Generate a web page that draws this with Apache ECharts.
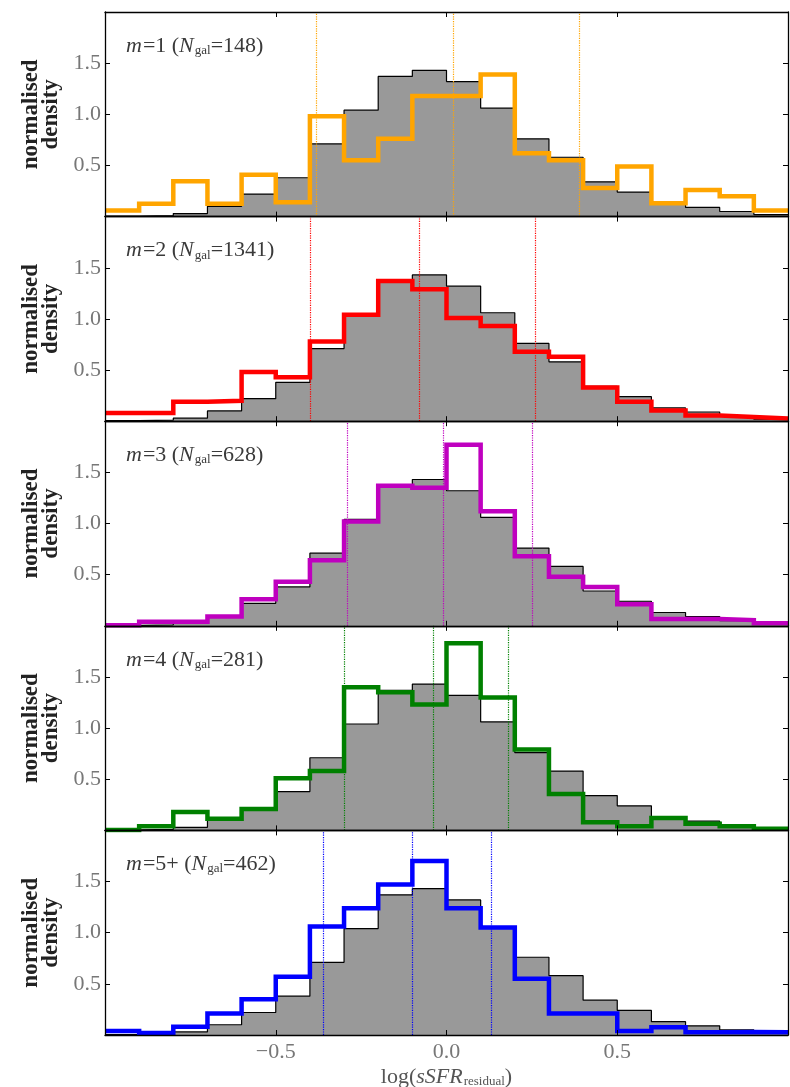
<!DOCTYPE html>
<html>
<head>
<meta charset="utf-8">
<script src="https://cdn.jsdelivr.net/npm/echarts@6/dist/echarts.min.js"></script>
<style>
  html, body { margin: 0; padding: 0; background: #fff; }
  #chart { width: 790px; height: 1087px; }
</style>
</head>
<body>
<div id="chart"></div>
<script>
// Histogram bin edges: 20 bins of width 0.1 spanning log(sSFR_residual) = -1 .. 1
const binEdges = [-1.0, -0.9, -0.8, -0.7, -0.6, -0.5, -0.4, -0.3, -0.2, -0.1, 0.0,
                  0.1, 0.2, 0.3, 0.4, 0.5, 0.6, 0.7, 0.8, 0.9, 1.0];

// Full galaxy sample (grey filled histogram, repeated in every panel)
const allGalaxies = [0.005, 0.01, 0.03, 0.10, 0.22, 0.38, 0.71, 1.04, 1.37, 1.43,
                     1.32, 1.06, 0.76, 0.58, 0.34, 0.24, 0.13, 0.09, 0.05, 0.02];

// Sub-samples by multiplicity m
const densityM1 = [0.06, 0.125, 0.345, 0.125, 0.41, 0.14, 0.98, 0.55, 0.76, 1.18,
                   1.18, 1.39, 0.62, 0.55, 0.28, 0.49, 0.13, 0.26, 0.20, 0.06];
const densityM2 = [0.08, 0.08, 0.19, 0.20, 0.48, 0.43, 0.78, 1.04, 1.37, 1.29,
                   1.01, 0.93, 0.68, 0.63, 0.33, 0.19, 0.105, 0.056, 0.04, 0.026];
const densityM3 = [0.005, 0.04, 0.04, 0.09, 0.26, 0.43, 0.64, 1.02, 1.37, 1.35,
                   1.77, 1.12, 0.68, 0.48, 0.38, 0.21, 0.066, 0.066, 0.056, 0.026];
const densityM4 = [0.005, 0.04, 0.18, 0.115, 0.21, 0.51, 0.58, 1.40, 1.35, 1.23,
                   1.83, 1.30, 0.79, 0.355, 0.08, 0.04, 0.12, 0.066, 0.04, 0.015];
const densityM5 = [0.04, 0.02, 0.08, 0.21, 0.35, 0.57, 1.06, 1.24, 1.47, 1.70,
                   1.24, 1.05, 0.55, 0.21, 0.21, 0.04, 0.075, 0.026, 0.03, 0.026];

// 16th / 50th / 84th percentiles of each sub-sample (dotted verticals)
const percentilesM1 = [-0.375, 0.02, 0.39];
const percentilesM2 = [-0.40, -0.077, 0.26];
const percentilesM3 = [-0.287, -0.009, 0.254];
const percentilesM4 = [-0.30, -0.037, 0.178];
const percentilesM5 = [-0.365, -0.10, 0.131];

const multiplicityLabels = ['1', '2', '3', '4', '5+'];
const galaxyCounts = [148, 1341, 628, 281, 462];
const panelColors = ['#ffa500', '#ff0000', '#bf00bf', '#008000', '#0000ff'];

const xTickValues = [-0.5, 0.0, 0.5];
const yTickValues = [0.5, 1.0, 1.5];

const panelDensities = [densityM1, densityM2, densityM3, densityM4, densityM5];
const panelPercentiles = [percentilesM1, percentilesM2, percentilesM3, percentilesM4, percentilesM5];

// ---- layout ----
const SERIF = "'Liberation Serif', 'DejaVu Serif', serif";
const PLOT_LEFT = 105, PLOT_RIGHT = 2, PLOT_TOP = 12, PANEL_H = 204.6;

// Turn per-bin densities into step points at the bin edges
function stepPoints(values) {
  return binEdges.map((e, k) => [e, values[Math.min(k, values.length - 1)]]);
}

function fmtX(v) {
  if (!xTickValues.some(t => Math.abs(t - v) < 1e-9)) return '';
  return (v < 0 ? '\u2212' : '') + Math.abs(v).toFixed(1);
}
function fmtY(v) {
  if (!yTickValues.some(t => Math.abs(t - v) < 1e-9)) return '';
  return v.toFixed(1);
}

const grids = [], xAxes = [], yAxes = [], series = [], titles = [];
const n = panelDensities.length;

for (let i = 0; i < n; i++) {
  const top = PLOT_TOP + i * PANEL_H;
  const isLast = i === n - 1;
  grids.push({ left: PLOT_LEFT, right: PLOT_RIGHT, top: top, height: PANEL_H,
               containLabel: false, outerBoundsMode: 'none' });

  const tickStyle = { show: true, inside: true, length: 5, lineStyle: { color: '#000', width: 1 } };
  const lineStyle = { show: true, onZero: false, lineStyle: { color: '#000', width: 1.3 } };

  // bottom x axis
  xAxes.push({
    type: 'value', gridIndex: i, position: 'bottom', min: -1, max: 1, interval: 0.5, z: 5,
    axisLine: lineStyle, axisTick: tickStyle, splitLine: { show: false },
    axisLabel: { show: isLast, formatter: fmtX, fontFamily: SERIF, fontSize: 22,
                 color: '#777', margin: 6, showMinLabel: false, showMaxLabel: false },
    name: isLast ? 'log({i|sSFR}{s|residual})' : '',
    nameLocation: 'middle', nameGap: 31,
    nameTextStyle: {
      fontFamily: SERIF, fontSize: 22, color: '#555',
      rich: {
        i: { fontFamily: SERIF, fontSize: 22, fontStyle: 'italic', color: '#555', padding: [0, 1, 0, 0] },
        s: { fontFamily: SERIF, fontSize: 13, color: '#555', verticalAlign: 'bottom', padding: [9, 0, 0, 0] }
      }
    }
  });
  // top x axis (ticks only)
  xAxes.push({
    type: 'value', gridIndex: i, position: 'top', min: -1, max: 1, interval: 0.5, z: 5,
    axisLine: lineStyle, axisTick: tickStyle, splitLine: { show: false },
    axisLabel: { show: false }
  });
  // left y axis
  yAxes.push({
    type: 'value', gridIndex: i, position: 'left', min: 0, max: 2, interval: 0.5, z: 5,
    axisLine: lineStyle, axisTick: tickStyle, splitLine: { show: false },
    axisLabel: { show: true, formatter: fmtY, fontFamily: SERIF, fontSize: 22, color: '#777', margin: 4 },
    name: 'normalised\ndensity', nameLocation: 'middle', nameRotate: 90, nameGap: 39,
    nameTextStyle: { fontFamily: SERIF, fontSize: 23, fontWeight: 'bold', color: '#222', lineHeight: 20, align: 'center' }
  });
  // right y axis (ticks only)
  yAxes.push({
    type: 'value', gridIndex: i, position: 'right', min: 0, max: 2, interval: 0.5, z: 5,
    axisLine: lineStyle, axisTick: tickStyle, splitLine: { show: false },
    axisLabel: { show: false }
  });

  const xi = i * 2, yi = i * 2;

  // grey reference histogram
  series.push({
    type: 'line', step: 'end', xAxisIndex: xi, yAxisIndex: yi,
    data: stepPoints(allGalaxies), showSymbol: false, symbol: 'none', z: 1,
    lineStyle: { color: '#000', width: 1.2 },
    areaStyle: { color: '#999999', opacity: 1 },
    silent: true
  });

  // sub-sample histogram with percentile markers
  series.push({
    type: 'line', step: 'end', xAxisIndex: xi, yAxisIndex: yi,
    data: stepPoints(panelDensities[i]), showSymbol: false, symbol: 'none', z: 3,
    lineStyle: { color: panelColors[i], width: 4.5, join: 'miter', cap: 'butt' },
    silent: true,
    markLine: {
      silent: true, symbol: ['none', 'none'], label: { show: false },
      lineStyle: { color: panelColors[i], type: 'dotted', width: 1.2, opacity: 1 },
      emphasis: { disabled: true },
      data: panelPercentiles[i].map(q => ({ xAxis: q }))
    }
  });

  titles.push({
    left: 121, top: top + 18,
    text: '{i|m}=' + multiplicityLabels[i] + ' ({i|N}{s|gal}=' + galaxyCounts[i] + ')',
    textStyle: {
      fontFamily: SERIF, fontSize: 22, fontWeight: 'normal', color: '#3a3a3a',
      rich: {
        i: { fontFamily: SERIF, fontSize: 22, fontStyle: 'italic', color: '#3a3a3a', padding: [0, 1, 0, 0] },
        s: { fontFamily: SERIF, fontSize: 13, color: '#3a3a3a', verticalAlign: 'bottom', padding: [9, 0, 0, 0] }
      }
    }
  });
}

const chart = echarts.init(document.getElementById('chart'), null, { renderer: 'canvas' });
chart.setOption({
  backgroundColor: '#fff',
  animation: false,
  title: titles,
  grid: grids,
  xAxis: xAxes,
  yAxis: yAxes,
  series: series
});
</script>
</body>
</html>
